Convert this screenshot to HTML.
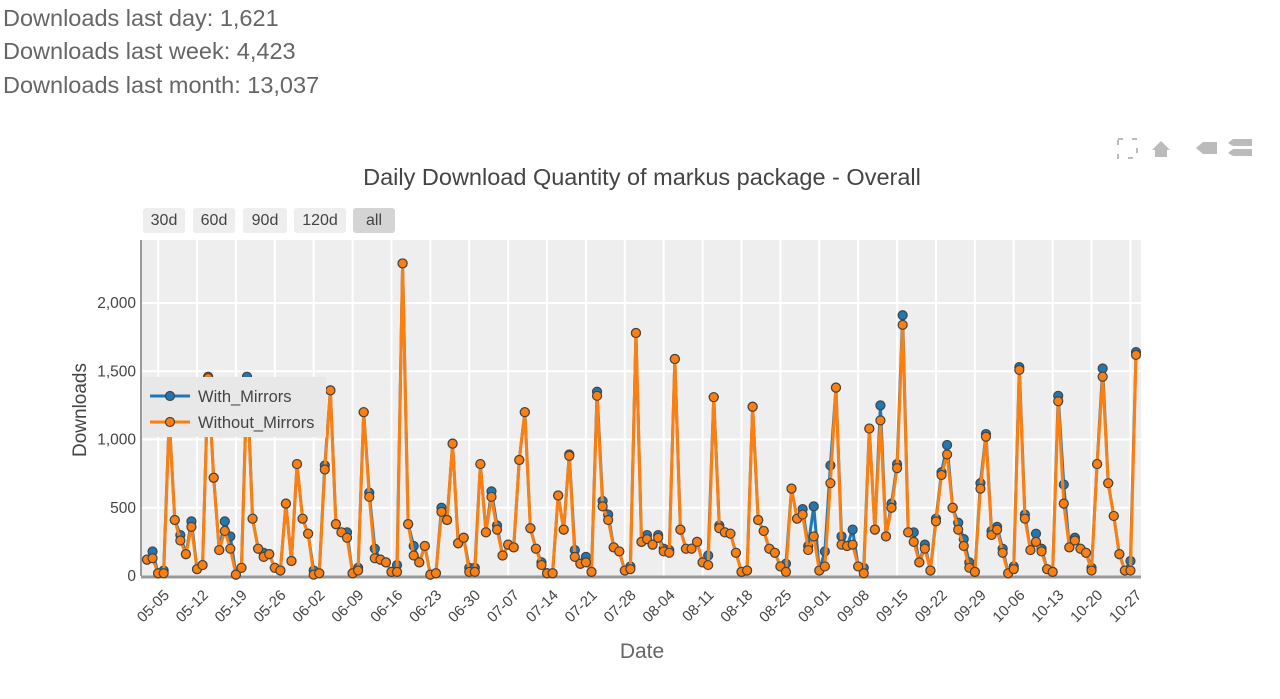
<!DOCTYPE html>
<html><head><meta charset="utf-8"><style>
body{margin:0;width:1280px;height:699px;background:#fff;font-family:"Liberation Sans",sans-serif;overflow:hidden;position:relative}
.stat{position:absolute;left:3px;font-size:23.5px;color:#666}
.btn{position:absolute;top:208px;height:25px;line-height:25px;font-size:16px;color:#444;background:#eee;border-radius:3px;text-align:center}
</style></head><body>
<div class="stat" style="top:5px">Downloads last day: 1,621</div>
<div class="stat" style="top:38px">Downloads last week: 4,423</div>
<div class="stat" style="top:72px">Downloads last month: 13,037</div>
<div class="btn" style="left:143px;width:42px">30d</div>
<div class="btn" style="left:193px;width:42px">60d</div>
<div class="btn" style="left:243px;width:44px">90d</div>
<div class="btn" style="left:294px;width:52px">120d</div>
<div class="btn" style="left:353px;width:42px;background:#d4d4d4">all</div>
<svg id="chart" width="1280" height="699" style="position:absolute;left:0;top:0;pointer-events:none"></svg>
<script>
const startDate=[2024,4,3];
const withoutMirrors=[120,130,20,20,1150,410,260,160,360,50,80,1450,720,190,330,200,10,60,1420,420,200,140,160,60,40,530,110,820,420,310,10,20,780,1360,380,320,280,20,40,1200,580,130,120,100,30,30,2290,380,150,100,220,10,20,470,410,970,240,280,30,30,820,320,580,340,150,230,210,850,1200,350,200,80,20,20,590,340,880,140,90,100,30,1320,510,410,210,180,40,50,1780,250,270,230,280,180,170,1590,340,200,200,250,100,80,1310,350,320,310,170,30,40,1240,410,330,200,170,70,30,640,420,450,190,290,40,70,680,1380,230,220,230,70,20,1080,340,1140,290,500,790,1840,320,250,100,200,40,400,740,890,500,340,220,60,30,640,1020,300,340,170,20,50,1510,420,190,250,180,50,30,1280,530,210,260,200,170,40,820,1460,680,440,160,40,40,1620];
const withMirrors=[120,180,20,40,1160,410,300,160,400,50,80,1460,720,190,400,290,10,60,1460,420,200,170,160,60,40,530,110,820,420,310,40,20,810,1360,380,320,320,20,60,1200,610,200,120,100,30,80,2290,380,220,100,220,10,20,500,410,970,240,280,60,60,820,320,620,370,150,230,210,850,1200,350,200,100,20,20,590,340,890,190,90,140,30,1350,550,450,210,180,40,70,1780,250,300,230,300,200,190,1590,340,200,200,250,100,150,1310,370,320,310,170,30,40,1240,410,330,200,170,70,90,640,420,490,220,510,40,180,810,1380,290,220,340,70,60,1080,340,1250,290,530,820,1910,320,320,100,230,40,420,760,960,500,390,270,100,30,680,1040,330,360,200,20,70,1530,450,190,310,200,50,30,1320,670,210,280,200,170,60,820,1520,680,440,160,40,110,1640];
const yTicks=[0,500,1000,1500,2000];
const yTickLabels=["0","500","1,000","1,500","2,000"];
const NS="http://www.w3.org/2000/svg";
const svg=document.getElementById('chart');
const X0=147,XN=1136,Y0=576,KY=0.1365,PL=141,PR=1141,PT=240;
const DX=(XN-X0)/(withoutMirrors.length-1);
const xs=i=>X0+DX*i, ys=v=>Y0-v*KY;
function mk(t,a,p){const e=document.createElementNS(NS,t);for(const k in a)e.setAttribute(k,a[k]);(p||svg).appendChild(e);return e;}
const bg=mk('rect',{x:PL,y:PT,width:PR-PL,height:Y0-PT,fill:'#eeeeee'});


const pad=n=>String(n).padStart(2,'0');
for(let i=0;i<withoutMirrors.length;i++){
  const d=new Date(startDate[0],startDate[1],startDate[2]+i);
  if(d.getDay()===0){
    const x=xs(i);
    const g=mk('line',{x1:x,x2:x,y1:PT,y2:Y0,stroke:'#fff','stroke-width':2});
    
    
    const t=mk('text',{x:x+12,y:Y0+20,transform:`rotate(-45 ${x+12} ${Y0+20})`,'text-anchor':'end','font-size':15,fill:'#444'});
    t.textContent=pad(d.getMonth()+1)+'-'+pad(d.getDate());
    
    
  }
}
yTicks.forEach((v,k)=>{
  const y=ys(v);
  if(v>0){const g=mk('line',{x1:PL,x2:PR,y1:y,y2:y,stroke:'#fff','stroke-width':2});
  
  }
  const t=mk('text',{x:136,y:y+5,'text-anchor':'end','font-size':15.5,fill:'#444'});
  t.textContent=yTickLabels[k];
  
  
});
const ax=mk('line',{x1:PL,x2:PR,y1:Y0+1,y2:Y0+1,stroke:'#999','stroke-width':3});


const ay=mk('line',{x1:PL,x2:PL,y1:PT,y2:Y0,stroke:'#999','stroke-width':2});


function series(arr,color,name){
  const g=mk('g',{});
  
  
  const pl=mk('polyline',{points:arr.map((v,i)=>xs(i)+','+ys(v)).join(' '),fill:'none',stroke:color,'stroke-width':3,'stroke-linejoin':'round'},g);
  
  
  arr.forEach((v,i)=>{
    const c=mk('circle',{cx:xs(i),cy:ys(v),r:4.5,fill:color,stroke:'#444','stroke-width':1.2},g);
    
    
  });
}
series(withMirrors,'#1f77b4','with-mirrors');
series(withoutMirrors,'#ff7f0e','without-mirrors');
const lg=mk('g',{});


mk('rect',{x:143,y:377,width:183,height:60,fill:'#e8e8e8'},lg);
[['#1f77b4','With_Mirrors',396],['#ff7f0e','Without_Mirrors',422]].forEach(([c,l,y])=>{
  const e=mk('g',{},lg);
  
  
  mk('line',{x1:150,x2:190,y1:y,y2:y,stroke:c,'stroke-width':3},e);
  mk('circle',{cx:170,cy:y,r:4.5,fill:c,stroke:'#444','stroke-width':1.2},e);
  const t=mk('text',{x:198,y:y+6,'font-size':16.5,fill:'#444'},e);t.textContent=l;
});
const tt=mk('text',{x:642,y:185,'text-anchor':'middle','font-size':23.5,fill:'#444'});
tt.textContent='Daily Download Quantity of markus package - Overall';


const xt=mk('text',{x:642,y:658,'text-anchor':'middle','font-size':21,fill:'#666'});
xt.textContent='Date';


const yt=mk('text',{x:86,y:410,'text-anchor':'middle','font-size':19,fill:'#444',transform:'rotate(-90 86 410)'});
yt.textContent='Downloads';


const mb=mk('g',{fill:'#bbb'});


mk('rect',{x:1118,y:139,width:19,height:19,fill:'none',stroke:'#bbb','stroke-width':2,'stroke-dasharray':'5 9'},mb);
mk('path',{d:'M1152 150 L1161 141 L1170 150 L1167 150 L1167 157 L1155 157 L1155 150Z'},mb);
mk('path',{d:'M1196 148 L1203 142 L1217 142 L1217 154 L1203 154Z'},mb);
mk('path',{d:'M1228 143 L1233 139 L1252 139 L1252 146 L1233 146Z M1228 153 L1233 149 L1252 149 L1252 156 L1233 156Z'},mb);
</script>
</body></html>
